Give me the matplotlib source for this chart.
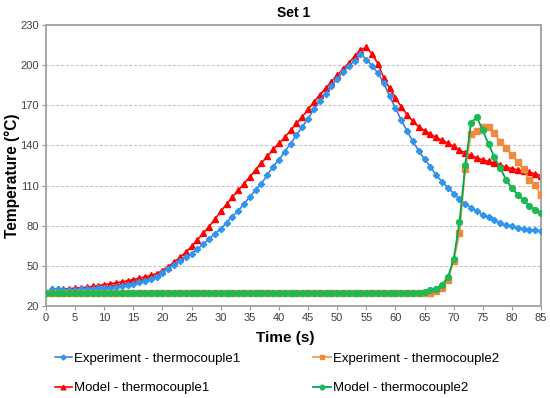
import matplotlib
matplotlib.use("Agg")
import matplotlib.pyplot as plt
import numpy as np

plt.rcParams['font.family'] = ['Liberation Sans', 'DejaVu Sans']

title = "Set 1"
xlabel = "Time (s)"
ylabel = "Temperature (°C)"
labels = ["Experiment - thermocouple1", "Experiment - thermocouple2",
          "Model - thermocouple1", "Model - thermocouple2"]

time_tc1 = list(range(1, 86))
time_tc2 = list(range(0, 86))

exp_tc1 = [32.5, 32.5, 32.3, 32.3, 32.3, 32.5, 32.7, 33.0, 33.2, 33.4,
           33.8, 34.3, 35.0, 35.8, 36.8, 37.8, 38.8, 40.0, 42.0, 45.0,
           48.0, 50.8, 53.4, 56.3, 59.0, 62.5, 66.2, 70.0, 73.9, 77.6,
           82.3, 86.8, 91.2, 96.2, 101.6, 106.6, 111.5, 118.0, 124.2, 129.3,
           135.3, 141.4, 147.6, 153.9, 160.0, 167.0, 173.3, 178.8, 184.5, 190.0,
           195.0, 199.3, 203.4, 208.5, 204.2, 199.5, 194.0, 186.8, 176.8, 168.0,
           159.0, 150.8, 143.0, 136.0, 129.8, 124.2, 117.8, 113.0, 108.5, 104.0,
           99.8, 96.4, 93.2, 90.7, 88.2, 86.3, 84.0, 82.0, 80.7, 79.5,
           78.4, 77.6, 77.0, 76.5, 75.9]

model_tc1 = [32.5, 32.6, 32.8, 33.0, 33.3, 33.7, 34.1, 34.6, 35.2, 36.0,
             36.6, 37.3, 38.0, 38.8, 39.8, 40.7, 41.7, 42.8, 44.2, 46.5,
             49.5, 52.8, 56.3, 60.2, 64.5, 69.5, 74.4, 79.4, 84.8, 90.8,
             96.0, 101.3, 106.4, 111.5, 116.5, 121.8, 127.0, 131.8, 137.0, 141.5,
             146.0, 151.3, 156.4, 161.4, 166.9, 172.4, 177.6, 182.6, 187.5, 192.5,
             197.0, 201.7, 206.5, 211.5, 213.2, 208.5, 201.0, 190.5, 182.6, 175.8,
             168.9, 163.0, 158.0, 154.0, 151.0, 148.5, 146.0, 143.8, 141.7, 139.3,
             136.5, 134.5, 132.5, 130.7, 129.3, 128.0, 126.8, 125.2, 123.8, 122.7,
             121.8, 120.8, 119.8, 118.8, 117.5]

exp_tc2 = [29.5] * 66 + [29.8, 31.4, 33.5, 39.6, 53.5, 74.5, 122.5, 148.5, 150.8, 153.7,
                         153.7, 149.5, 142.2, 138.0, 132.5, 127.5, 122.4, 114.4, 110.2, 103.0]

model_tc2 = [30.0] * 65 + [30.8, 31.8, 32.8, 35.8, 41.3, 55.0, 82.6, 125.5, 157.0, 161.0,
                           151.2, 141.0, 131.3, 123.0, 114.5, 108.0, 103.2, 99.0, 94.8, 92.0, 89.5]

xticks = list(range(0, 90, 5))
yticks = list(range(20, 231, 30))

fig = plt.figure(figsize=(5.5, 3.98), dpi=100)
ax = fig.add_axes([46/550, 1 - 306/398, 495/550, 281/398])

l1, = ax.plot(time_tc1, exp_tc1, color='#4472C4', lw=1.1, marker='D', ms=3.2,
              mfc='#2E96F0', mec='#2E96F0', label=labels[0], zorder=3)
l3, = ax.plot(time_tc1, model_tc1, color='#FF0000', lw=1.2, marker='^', ms=4.2,
              mfc='#FF0000', mec='#FF0000', label=labels[2], zorder=2)
l2, = ax.plot(time_tc2, exp_tc2, color='#F79646', lw=1.2, marker='s', ms=3.8,
              mfc='#F08A3E', mec='#F08A3E', label=labels[1], zorder=4)
l4, = ax.plot(time_tc2, model_tc2, color='#00A850', lw=1.3, marker='o', ms=4.2,
              mfc='#1DB954', mec='#1DB954', label=labels[3], zorder=5)

ax.set_xlim(0, 85)
ax.set_ylim(20, 230)
ax.set_xticks(xticks)
ax.set_yticks(yticks)
ax.tick_params(axis='both', labelsize=8, colors='#404040', length=3, width=0.8, pad=2)
ax.tick_params(axis='both', color='#999999')
ax.yaxis.grid(True, color='#BFBFBF', linestyle=(0, (3, 2)), lw=0.7)
ax.set_axisbelow(True)
for s in ax.spines.values():
    s.set_color('#A6A6A6')
    s.set_linewidth(1.4)

ax.set_title(title, fontsize=10, fontweight='bold', pad=6)
ax.set_xlabel(xlabel, fontsize=11, fontweight='bold')
ax.set_ylabel(ylabel, fontsize=11.2, fontweight='bold')
ax.xaxis.set_label_coords(0.483, -0.09)
ax.yaxis.set_label_coords(-0.053, 0.463)

# row-major order: row 1 = experiment, row 2 = model
fig.legend([l1, l3, l2, l4], [labels[0], labels[2], labels[1], labels[3]],
           ncol=2, loc='upper left', bbox_to_anchor=(43/550, 1 - 341/398),
           frameon=False, fontsize=9.5, handlelength=1.3, handletextpad=0.15,
           columnspacing=5.55, labelspacing=1.3, markerscale=0.8)

fig.savefig('out.png', dpi=100)
